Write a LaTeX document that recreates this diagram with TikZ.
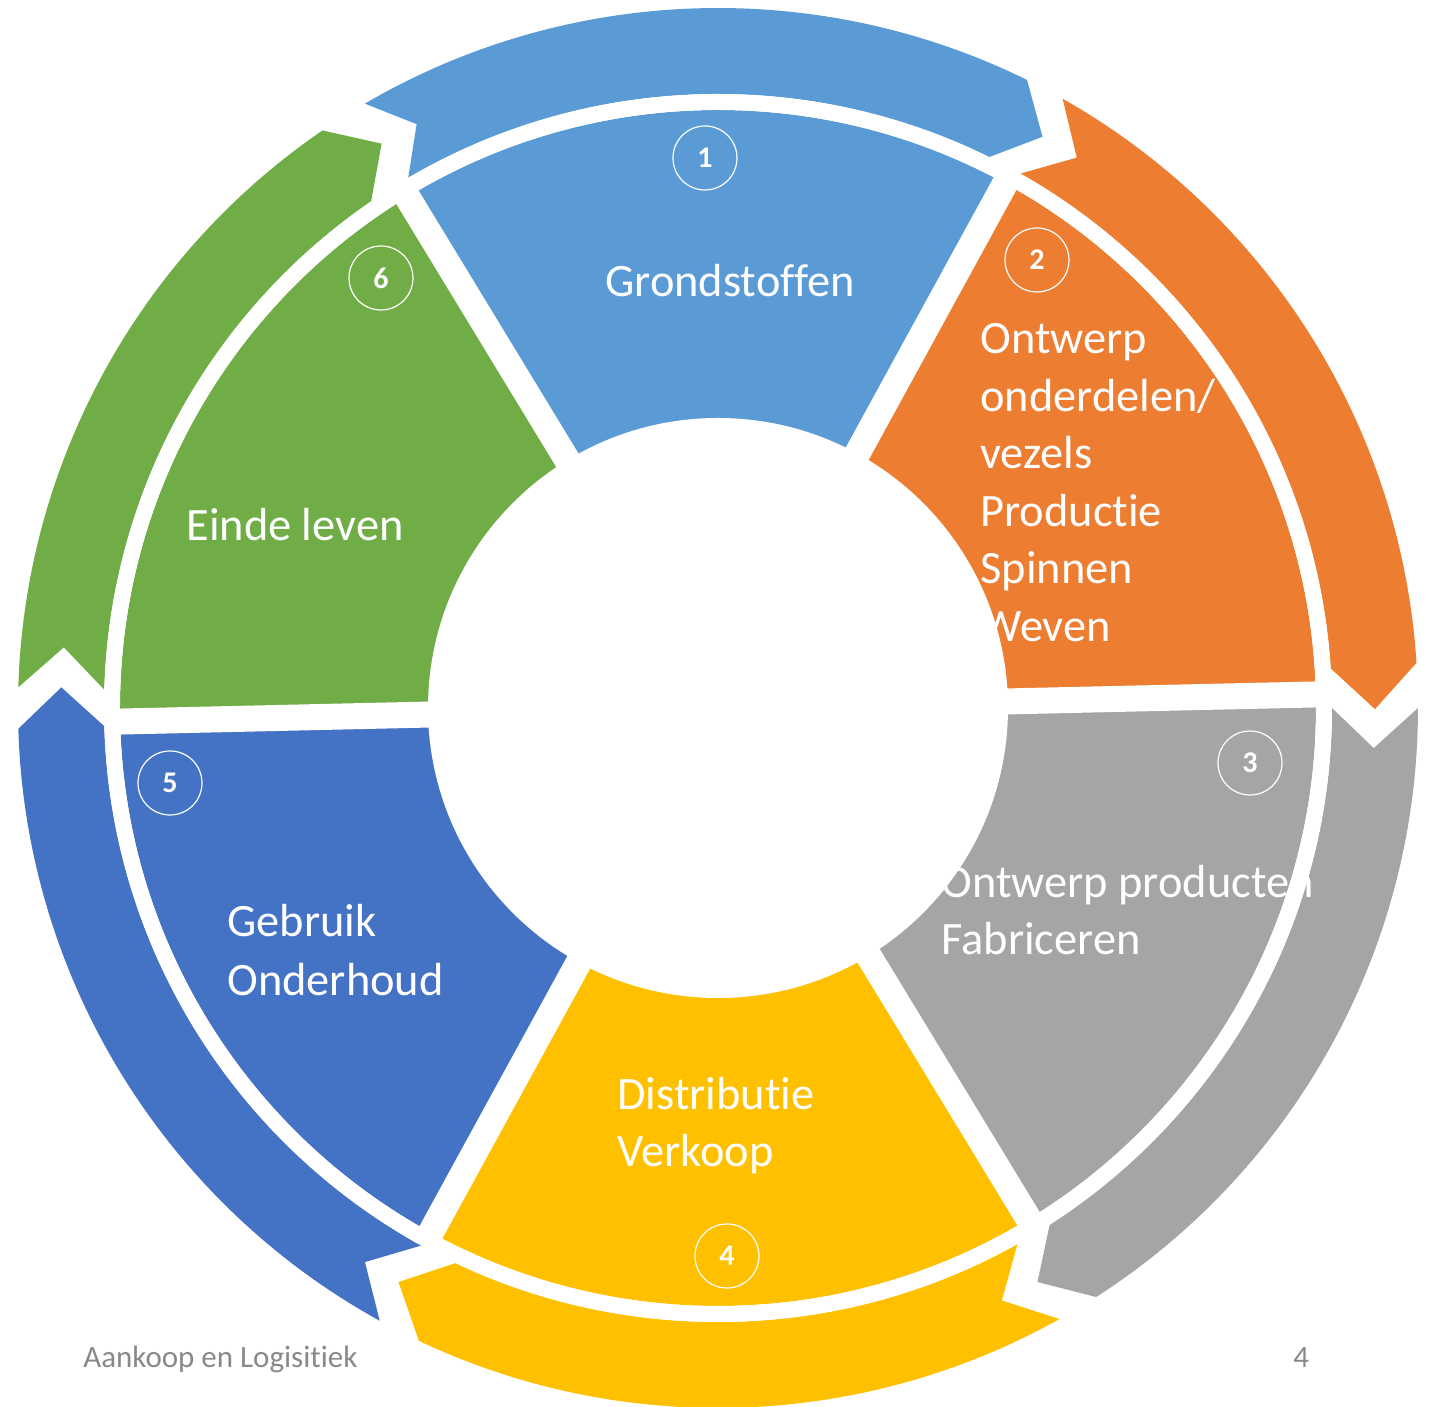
\documentclass[tikz,border=0pt]{standalone}
\usepackage{fontspec}
\setmainfont{Carlito}[Ligatures=NoCommon]
\definecolor{cblue}{HTML}{5B9BD5}
\definecolor{corange}{HTML}{ED7D31}
\definecolor{cgray}{HTML}{A5A5A5}
\definecolor{cyellow}{HTML}{FFC000}
\definecolor{cdblue}{HTML}{4472C4}
\definecolor{cgreen}{HTML}{70AD47}
\definecolor{cfoot}{HTML}{898989}
\newcommand\sectorfill[3]{\fill[#1] (0,0) -- (#2:299pt) arc[start angle=#2, end angle=#3, radius=299pt] -- cycle;}
\newcommand\outarrow[5]{\fill[#1] (#2:307pt) -- (#3:328.5pt) -- (#2:350pt) arc[start angle=#2, end angle=#5, radius=350pt] -- (#4:328.5pt) -- (#5:307pt) arc[start angle=#5, end angle=#2, radius=307pt] -- cycle;}
\begin{document}
\begin{tikzpicture}[x=0.5pt,y=0.5pt,
  lbl/.style={text=white, inner sep=0pt, anchor=base west, font=\fontsize{23.2}{28.8}\selectfont},
  num/.style={circle, draw=white, line width=0.6pt, minimum size=32pt, inner sep=0pt, text=white, font=\fontsize{15}{18}\selectfont\bfseries},
  gapline/.style={white, line width=13pt},
  foot/.style={text=cfoot, inner sep=0pt, anchor=base west, font=\fontsize{15.5}{18}\selectfont}]
\useasboundingbox (-718,-699) rectangle (714,708);
% inner sectors
\sectorfill{cblue}{61.3}{121.3}
\sectorfill{corange}{1.3}{61.3}
\sectorfill{cgray}{-58.7}{1.3}
\sectorfill{cyellow}{-118.7}{-58.7}
\sectorfill{cdblue}{181.3}{241.3}
\sectorfill{cgreen}{121.3}{181.3}
% outer arrows: colour, start, notch, tip, tip base
\outarrow{cblue}{120.3}{117.3}{60.4}{63.8}
\outarrow{corange}{60.5}{56.9}{-0.1}{3.7}
\outarrow{cgray}{0.0}{-3.5}{-60.9}{-57.3}
\outarrow{cyellow}{-60.8}{-64.4}{-119.1}{-115.3}
\outarrow{cdblue}{-118.9}{-122.5}{-181.8}{-178.3}
\outarrow{cgreen}{178.3}{174.7}{120.8}{124.4}
% labels
\node[lbl] (t1) at (-113,411) {Grondstoffen};
\node[lbl] (t2a) at (262,354) {Ontwerp};
\node[lbl] (t2b) at (262,296) {onderdelen/};
\node[lbl] (t2c) at (262,239) {vezels};
\node[lbl] (t2d) at (262,181) {Productie};
\node[lbl] (t2e) at (262,124) {Spinnen};
\node[lbl] (t2f) at (262,66) {Weven};
\node[lbl] (t3a) at (223,-190) {Ontwerp producten};
\node[lbl] (t3b) at (223,-247) {Fabriceren};
\node[lbl] (t4a) at (-101,-402) {Distributie};
\node[lbl] (t4b) at (-101,-459) {Verkoop};
\node[lbl] (t5a) at (-491,-229) {Gebruik};
\node[lbl] (t5b) at (-491,-288) {Onderhoud};
\node[lbl] (t6) at (-532,167) {Einde leven};
% white cuts
\fill[white] (0,0) circle[radius=145pt];
\foreach \b in {1.3,61.3,121.3,181.3,241.3,301.3} {\draw[gapline] (0,0) -- (\b:303pt);}
\draw[white, line width=8pt] (0,0) circle[radius=303pt];
% numbers
\node[num] (n1) at (-13,550) {1};
\node[num] (n2) at (319,448) {2};
\node[num] (n3) at (532,-55) {3};
\node[num] (n4) at (9,-548) {4};
\node[num] (n5) at (-548,-75) {5};
\node[num] (n6) at (-337,430) {6};
% footer
\node[foot] (f1) at (-635,-660) {Aankoop en Logisitiek};
\node[foot] (f2) at (575,-660) {4};
\end{tikzpicture}
\end{document}
